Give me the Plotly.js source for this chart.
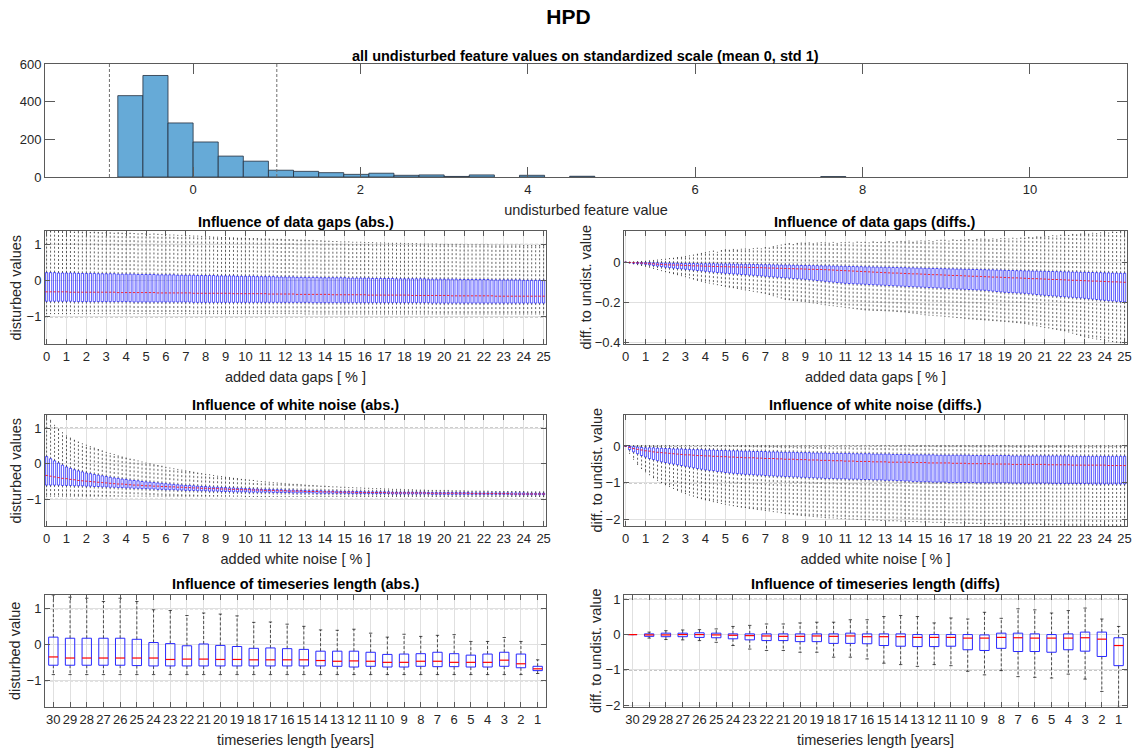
<!DOCTYPE html>
<html>
<head>
<meta charset="utf-8">
<script src="https://cdn.plot.ly/plotly-3.0.1.min.js"></script>
<style>html,body{margin:0;padding:0;background:#fff}#plot{width:1137px;height:754px}</style>
</head>
<body>
<div id="plot"></div>
<script>
// ---------------- DATA ----------------
// Histogram of undisturbed feature values
const histLeftEdges = [-0.9,-0.6,-0.3,0,0.3,0.6,0.9,1.2,1.5,1.8,2.1,2.4,2.7,3.0,3.3,3.9,4.5,7.5];
const histCounts    = [432,539,287,186,111,84,36,30,23,14,20,9,11,3,11,9,4,2];
const histBinWidth  = 0.3;

// added disturbance in percent (box positions, data gaps and white noise)
const addedPct = [0,0.2,0.4,0.6,0.8, 1,1.2,1.4,1.6,1.8, 2,2.2,2.4,2.6,2.8, 3,3.2,3.4,3.6,3.8, 4,4.2,4.4,4.6,4.8,
 5,5.2,5.4,5.6,5.8, 6,6.2,6.4,6.6,6.8, 7,7.2,7.4,7.6,7.8, 8,8.2,8.4,8.6,8.8, 9,9.2,9.4,9.6,9.8,
 10,10.2,10.4,10.6,10.8, 11,11.2,11.4,11.6,11.8, 12,12.2,12.4,12.6,12.8, 13,13.2,13.4,13.6,13.8, 14,14.2,14.4,14.6,14.8,
 15,15.2,15.4,15.6,15.8, 16,16.2,16.4,16.6,16.8, 17,17.2,17.4,17.6,17.8, 18,18.2,18.4,18.6,18.8, 19,19.2,19.4,19.6,19.8,
 20,20.2,20.4,20.6,20.8, 21,21.2,21.4,21.6,21.8, 22,22.2,22.4,22.6,22.8, 23,23.2,23.4,23.6,23.8, 24,24.2,24.4,24.6,24.8, 25];

// Data gaps (abs.)
const gapsAbsQ3 = [0.22,0.22,0.22,0.21,0.21, 0.21,0.21,0.21,0.20,0.20, 0.20,0.20,0.20,0.19,0.19, 0.19,0.19,0.19,0.18,0.18, 0.18,0.18,0.18,0.17,0.17,
 0.17,0.17,0.17,0.16,0.16, 0.16,0.16,0.16,0.15,0.15, 0.15,0.15,0.15,0.14,0.14, 0.14,0.14,0.14,0.13,0.13, 0.13,0.13,0.13,0.12,0.12,
 0.12,0.12,0.12,0.11,0.11, 0.11,0.11,0.11,0.10,0.10, 0.10,0.10,0.10,0.09,0.09, 0.09,0.09,0.09,0.09,0.08, 0.08,0.08,0.08,0.08,0.08,
 0.08,0.07,0.07,0.07,0.07, 0.07,0.07,0.06,0.06,0.06, 0.06,0.06,0.06,0.05,0.05, 0.05,0.05,0.05,0.05,0.05, 0.05,0.04,0.04,0.04,0.04,
 0.04,0.04,0.04,0.04,0.03, 0.03,0.03,0.03,0.03,0.03, 0.03,0.03,0.02,0.02,0.02, 0.02,0.02,0.02,0.02,0.02, 0.01,0.01,0.01,0.01,0.01, 0.01];
const gapsAbsMed = [-0.31,-0.31,-0.31,-0.31,-0.31, -0.31,-0.32,-0.32,-0.32,-0.32, -0.32,-0.32,-0.32,-0.32,-0.32, -0.32,-0.32,-0.32,-0.33,-0.33, -0.33,-0.33,-0.33,-0.33,-0.33,
 -0.33,-0.33,-0.33,-0.34,-0.34, -0.34,-0.34,-0.34,-0.34,-0.34, -0.34,-0.34,-0.35,-0.35,-0.35, -0.35,-0.35,-0.35,-0.35,-0.35, -0.35,-0.35,-0.36,-0.36,-0.36,
 -0.36,-0.36,-0.36,-0.36,-0.36, -0.36,-0.37,-0.37,-0.37,-0.37, -0.37,-0.37,-0.37,-0.38,-0.38, -0.38,-0.38,-0.38,-0.38,-0.38, -0.38,-0.38,-0.39,-0.39,-0.39,
 -0.39,-0.39,-0.39,-0.39,-0.39, -0.39,-0.40,-0.40,-0.40,-0.40, -0.40,-0.40,-0.40,-0.40,-0.40, -0.40,-0.40,-0.41,-0.41,-0.41, -0.41,-0.41,-0.41,-0.41,-0.41,
 -0.41,-0.41,-0.42,-0.42,-0.42, -0.42,-0.42,-0.42,-0.42,-0.42, -0.42,-0.42,-0.42,-0.43,-0.43, -0.43,-0.43,-0.43,-0.43,-0.43, -0.43,-0.43,-0.43,-0.43,-0.43, -0.43];
const gapsAbsQ1 = [-0.57,-0.57,-0.57,-0.57,-0.57, -0.57,-0.57,-0.58,-0.58,-0.58, -0.58,-0.58,-0.58,-0.58,-0.58, -0.58,-0.58,-0.58,-0.58,-0.58, -0.58,-0.58,-0.59,-0.59,-0.59,
 -0.59,-0.59,-0.59,-0.59,-0.59, -0.59,-0.59,-0.59,-0.59,-0.59, -0.59,-0.59,-0.60,-0.60,-0.60, -0.60,-0.60,-0.60,-0.60,-0.60, -0.60,-0.60,-0.60,-0.60,-0.60,
 -0.60,-0.60,-0.60,-0.60,-0.60, -0.60,-0.60,-0.60,-0.60,-0.60, -0.60,-0.60,-0.60,-0.60,-0.60, -0.60,-0.60,-0.61,-0.61,-0.61, -0.61,-0.61,-0.61,-0.61,-0.61,
 -0.61,-0.61,-0.61,-0.61,-0.61, -0.61,-0.61,-0.61,-0.61,-0.61, -0.61,-0.61,-0.61,-0.61,-0.61, -0.61,-0.61,-0.61,-0.61,-0.61, -0.61,-0.61,-0.62,-0.62,-0.62,
 -0.62,-0.62,-0.62,-0.62,-0.62, -0.62,-0.62,-0.62,-0.62,-0.62, -0.62,-0.62,-0.62,-0.62,-0.62, -0.62,-0.62,-0.62,-0.62,-0.62, -0.62,-0.62,-0.62,-0.62,-0.62, -0.62];
const gapsAbsUpper = [1.36,1.36,1.35,1.36,1.35, 1.35,1.35,1.34,1.35,1.34, 1.34,1.33,1.34,1.33,1.32, 1.33,1.32,1.31,1.32,1.31, 1.30,1.31,1.30,1.29,1.30,
 1.29,1.28,1.29,1.28,1.27, 1.27,1.26,1.26,1.25,1.25, 1.24,1.24,1.23,1.23,1.22, 1.21,1.21,1.20,1.20,1.19, 1.19,1.18,1.18,1.17,1.17,
 1.17,1.16,1.16,1.16,1.15, 1.15,1.15,1.14,1.14,1.14, 1.13,1.13,1.13,1.12,1.12, 1.12,1.11,1.11,1.10,1.10, 1.09,1.09,1.08,1.08,1.07,
 1.07,1.07,1.06,1.06,1.06, 1.05,1.05,1.05,1.04,1.04, 1.04,1.03,1.03,1.03,1.03, 1.02,1.02,1.02,1.02,1.01, 1.01,1.01,1.01,1.01,1.00,
 1.00,1.00,1.00,1.00,1.00, 0.99,0.99,0.99,0.99,0.99, 0.99,0.99,0.98,0.98,0.98, 0.98,0.98,0.98,0.98,0.98, 0.97,0.97,0.97,0.97,0.97, 0.97];
const gapsAbsLower = [-0.91,-0.91,-0.91,-0.91,-0.91, -0.91,-0.91,-0.91,-0.91,-0.91, -0.91,-0.91,-0.91,-0.91,-0.91, -0.91,-0.91,-0.91,-0.91,-0.91, -0.91,-0.91,-0.91,-0.91,-0.91,
 -0.91,-0.91,-0.91,-0.91,-0.91, -0.91,-0.91,-0.91,-0.91,-0.91, -0.91,-0.91,-0.91,-0.91,-0.91, -0.91,-0.91,-0.91,-0.91,-0.91, -0.91,-0.91,-0.91,-0.91,-0.91,
 -0.91,-0.91,-0.91,-0.91,-0.91, -0.91,-0.91,-0.91,-0.91,-0.91, -0.91,-0.91,-0.91,-0.91,-0.91, -0.92,-0.92,-0.92,-0.92,-0.92, -0.92,-0.92,-0.92,-0.92,-0.92,
 -0.92,-0.92,-0.92,-0.92,-0.92, -0.92,-0.92,-0.92,-0.92,-0.92, -0.92,-0.92,-0.92,-0.92,-0.92, -0.92,-0.92,-0.92,-0.92,-0.92, -0.92,-0.92,-0.92,-0.92,-0.92,
 -0.92,-0.92,-0.92,-0.92,-0.92, -0.92,-0.92,-0.92,-0.92,-0.92, -0.92,-0.92,-0.92,-0.92,-0.92, -0.92,-0.92,-0.92,-0.92,-0.92, -0.92,-0.92,-0.92,-0.92,-0.92, -0.92];

// Data gaps (diffs.)
const gapsDiffQ3 = [0,0,-0.001,-0.001,-0.002, -0.002,-0.002,-0.003,-0.003,-0.004, -0.004,-0.004,-0.005,-0.005,-0.006, -0.006,-0.006,-0.006,-0.007,-0.007, -0.007,-0.007,-0.007,-0.008,-0.008,
 -0.008,-0.008,-0.009,-0.009,-0.010, -0.010,-0.010,-0.011,-0.011,-0.012, -0.012,-0.012,-0.013,-0.013,-0.014, -0.014,-0.014,-0.015,-0.015,-0.016, -0.016,-0.016,-0.017,-0.017,-0.018,
 -0.018,-0.018,-0.019,-0.019,-0.020, -0.020,-0.021,-0.021,-0.022,-0.022, -0.023,-0.023,-0.024,-0.024,-0.025, -0.025,-0.025,-0.026,-0.026,-0.027, -0.027,-0.028,-0.028,-0.029,-0.029,
 -0.030,-0.030,-0.031,-0.031,-0.032, -0.032,-0.033,-0.033,-0.034,-0.034, -0.035,-0.035,-0.036,-0.036,-0.037, -0.037,-0.038,-0.038,-0.039,-0.039, -0.040,-0.041,-0.041,-0.042,-0.042,
 -0.043,-0.043,-0.044,-0.044,-0.045, -0.045,-0.046,-0.046,-0.047,-0.047, -0.048,-0.048,-0.049,-0.049,-0.050, -0.050,-0.051,-0.051,-0.052,-0.052, -0.053,-0.053,-0.054,-0.054,-0.055, -0.055];
const gapsDiffMed = [0,-0.001,-0.002,-0.003,-0.004, -0.005,-0.007,-0.008,-0.010,-0.011, -0.012,-0.013,-0.014,-0.014,-0.015, -0.016,-0.017,-0.018,-0.018,-0.019, -0.020,-0.020,-0.021,-0.021,-0.022,
 -0.022,-0.023,-0.023,-0.024,-0.024, -0.025,-0.026,-0.026,-0.027,-0.027, -0.028,-0.029,-0.029,-0.030,-0.030, -0.031,-0.032,-0.032,-0.033,-0.033, -0.034,-0.035,-0.035,-0.036,-0.036,
 -0.037,-0.038,-0.039,-0.040,-0.041, -0.042,-0.043,-0.044,-0.045,-0.046, -0.047,-0.048,-0.049,-0.050,-0.051, -0.052,-0.053,-0.054,-0.054,-0.055, -0.056,-0.057,-0.058,-0.058,-0.059,
 -0.060,-0.061,-0.062,-0.062,-0.063, -0.064,-0.065,-0.066,-0.066,-0.067, -0.068,-0.069,-0.070,-0.070,-0.071, -0.072,-0.073,-0.074,-0.074,-0.075, -0.076,-0.077,-0.078,-0.078,-0.079,
 -0.080,-0.081,-0.082,-0.082,-0.083, -0.084,-0.085,-0.086,-0.086,-0.087, -0.088,-0.089,-0.090,-0.090,-0.091, -0.092,-0.093,-0.094,-0.094,-0.095, -0.096,-0.097,-0.098,-0.098,-0.099, -0.100];
const gapsDiffQ1 = [0,-0.002,-0.004,-0.006,-0.008, -0.010,-0.013,-0.016,-0.019,-0.022, -0.025,-0.027,-0.029,-0.031,-0.033, -0.035,-0.037,-0.039,-0.041,-0.043, -0.045,-0.047,-0.049,-0.051,-0.053,
 -0.055,-0.056,-0.058,-0.059,-0.061, -0.062,-0.064,-0.065,-0.067,-0.068, -0.070,-0.072,-0.073,-0.075,-0.076, -0.078,-0.079,-0.081,-0.082,-0.084, -0.085,-0.087,-0.089,-0.091,-0.093,
 -0.095,-0.097,-0.099,-0.101,-0.103, -0.105,-0.106,-0.107,-0.108,-0.109, -0.110,-0.111,-0.112,-0.113,-0.114, -0.115,-0.116,-0.117,-0.118,-0.119, -0.120,-0.121,-0.122,-0.123,-0.124,
 -0.125,-0.126,-0.127,-0.128,-0.129, -0.130,-0.131,-0.132,-0.133,-0.134, -0.135,-0.136,-0.137,-0.138,-0.139, -0.140,-0.142,-0.144,-0.146,-0.148, -0.150,-0.151,-0.152,-0.153,-0.154,
 -0.155,-0.157,-0.159,-0.161,-0.163, -0.165,-0.166,-0.168,-0.169,-0.171, -0.172,-0.174,-0.175,-0.177,-0.178, -0.180,-0.182,-0.184,-0.186,-0.188, -0.190,-0.192,-0.193,-0.195,-0.196, -0.198];
const gapsDiffUpper = [0,0.001,0.002,0.003,0.004, 0.005,0.007,0.009,0.011,0.013, 0.015,0.018,0.020,0.023,0.025, 0.028,0.032,0.036,0.040,0.044, 0.048,0.052,0.056,0.050,0.058,
 0.062,0.060,0.064,0.061,0.065, 0.066,0.064,0.068,0.070,0.067, 0.073,0.071,0.078,0.082,0.086, 0.090,0.093,0.088,0.094,0.096, 0.095,0.097,0.092,0.096,0.098,
 0.097,0.095,0.099,0.094,0.098, 0.098,0.100,0.096,0.101,0.099, 0.100,0.097,0.102,0.099,0.101, 0.100,0.103,0.098,0.102,0.104, 0.102,0.106,0.100,0.105,0.107,
 0.105,0.108,0.103,0.109,0.110, 0.110,0.106,0.112,0.109,0.111, 0.110,0.113,0.108,0.114,0.116, 0.115,0.112,0.117,0.114,0.118, 0.118,0.116,0.120,0.117,0.121,
 0.120,0.124,0.122,0.127,0.125, 0.130,0.128,0.133,0.131,0.135, 0.136,0.134,0.139,0.137,0.141, 0.142,0.140,0.145,0.143,0.147, 0.148,0.146,0.151,0.149,0.153, 0.153];
const gapsDiffLower = [0,-0.004,-0.008,-0.012,-0.016, -0.020,-0.025,-0.031,-0.036,-0.042, -0.047,-0.052,-0.057,-0.062,-0.067, -0.072,-0.078,-0.084,-0.090,-0.095, -0.100,-0.104,-0.108,-0.112,-0.116,
 -0.120,-0.124,-0.127,-0.131,-0.134, -0.138,-0.141,-0.145,-0.148,-0.152, -0.155,-0.161,-0.167,-0.173,-0.179, -0.185,-0.187,-0.190,-0.192,-0.195, -0.197,-0.200,-0.203,-0.206,-0.209,
 -0.212,-0.215,-0.217,-0.220,-0.222, -0.225,-0.228,-0.230,-0.233,-0.235, -0.238,-0.239,-0.240,-0.241,-0.241, -0.242,-0.243,-0.244,-0.246,-0.247, -0.248,-0.251,-0.254,-0.256,-0.259,
 -0.262,-0.264,-0.265,-0.267,-0.268, -0.270,-0.272,-0.274,-0.276,-0.278, -0.280,-0.282,-0.283,-0.285,-0.286, -0.288,-0.289,-0.291,-0.292,-0.294, -0.295,-0.297,-0.299,-0.301,-0.303,
 -0.305,-0.309,-0.313,-0.317,-0.321, -0.325,-0.328,-0.332,-0.335,-0.339, -0.342,-0.348,-0.354,-0.360,-0.366, -0.372,-0.376,-0.379,-0.383,-0.386, -0.390,-0.393,-0.396,-0.399,-0.402, -0.405];

// White noise (abs.)
const noiseAbsQ3 = [0.20,0.14,0.08,0.02,-0.04, -0.09,-0.13,-0.17,-0.20,-0.23, -0.26,-0.28,-0.30,-0.32,-0.34, -0.36,-0.38,-0.40,-0.41,-0.43, -0.44,-0.46,-0.47,-0.48,-0.50,
 -0.51,-0.52,-0.53,-0.54,-0.55, -0.56,-0.57,-0.58,-0.59,-0.60, -0.61,-0.61,-0.62,-0.63,-0.64, -0.64,-0.65,-0.66,-0.66,-0.67, -0.67,-0.68,-0.68,-0.69,-0.69,
 -0.70,-0.70,-0.71,-0.71,-0.72, -0.72,-0.72,-0.73,-0.73,-0.73, -0.74,-0.74,-0.74,-0.75,-0.75, -0.75,-0.76,-0.76,-0.76,-0.76, -0.77,-0.77,-0.77,-0.77,-0.78,
 -0.78,-0.78,-0.78,-0.78,-0.78, -0.79,-0.79,-0.79,-0.79,-0.79, -0.79,-0.79,-0.80,-0.80,-0.80, -0.80,-0.80,-0.80,-0.80,-0.80, -0.80,-0.81,-0.81,-0.81,-0.81,
 -0.81,-0.81,-0.81,-0.81,-0.81, -0.81,-0.81,-0.82,-0.82,-0.82, -0.82,-0.82,-0.82,-0.82,-0.82, -0.82,-0.82,-0.82,-0.82,-0.82, -0.82,-0.83,-0.83,-0.83,-0.83, -0.83];
const noiseAbsMed = [-0.33,-0.35,-0.37,-0.39,-0.41, -0.42,-0.44,-0.45,-0.47,-0.48, -0.49,-0.50,-0.51,-0.52,-0.53, -0.54,-0.55,-0.56,-0.57,-0.57, -0.58,-0.59,-0.60,-0.60,-0.61,
 -0.62,-0.62,-0.63,-0.63,-0.64, -0.64,-0.65,-0.65,-0.66,-0.66, -0.67,-0.67,-0.68,-0.68,-0.69, -0.69,-0.70,-0.70,-0.70,-0.71, -0.71,-0.72,-0.72,-0.72,-0.73,
 -0.73,-0.73,-0.74,-0.74,-0.74, -0.75,-0.75,-0.75,-0.76,-0.76, -0.76,-0.77,-0.77,-0.77,-0.77, -0.78,-0.78,-0.78,-0.78,-0.79, -0.79,-0.79,-0.79,-0.80,-0.80,
 -0.80,-0.80,-0.80,-0.81,-0.81, -0.81,-0.81,-0.81,-0.81,-0.81, -0.81,-0.82,-0.82,-0.82,-0.82, -0.82,-0.82,-0.82,-0.82,-0.82, -0.82,-0.83,-0.83,-0.83,-0.83,
 -0.83,-0.83,-0.83,-0.83,-0.83, -0.83,-0.83,-0.84,-0.84,-0.84, -0.84,-0.84,-0.84,-0.84,-0.84, -0.84,-0.84,-0.85,-0.85,-0.85, -0.85,-0.85,-0.85,-0.85,-0.85, -0.85];
const noiseAbsQ1 = [-0.60,-0.60,-0.60,-0.60,-0.61, -0.61,-0.61,-0.62,-0.62,-0.62, -0.63,-0.63,-0.64,-0.64,-0.65, -0.65,-0.66,-0.66,-0.67,-0.67, -0.68,-0.68,-0.69,-0.69,-0.70,
 -0.70,-0.71,-0.71,-0.72,-0.72, -0.73,-0.73,-0.73,-0.74,-0.74, -0.75,-0.75,-0.75,-0.76,-0.76, -0.76,-0.77,-0.77,-0.77,-0.78, -0.78,-0.78,-0.79,-0.79,-0.79,
 -0.79,-0.80,-0.80,-0.80,-0.80, -0.80,-0.80,-0.81,-0.81,-0.81, -0.81,-0.81,-0.82,-0.82,-0.82, -0.82,-0.82,-0.82,-0.83,-0.83, -0.83,-0.83,-0.83,-0.83,-0.83,
 -0.83,-0.84,-0.84,-0.84,-0.84, -0.84,-0.84,-0.84,-0.84,-0.84, -0.84,-0.84,-0.85,-0.85,-0.85, -0.85,-0.85,-0.85,-0.85,-0.85, -0.85,-0.85,-0.86,-0.86,-0.86,
 -0.86,-0.86,-0.86,-0.86,-0.86, -0.86,-0.86,-0.86,-0.86,-0.86, -0.86,-0.86,-0.86,-0.86,-0.86, -0.86,-0.86,-0.87,-0.87,-0.87, -0.87,-0.87,-0.87,-0.87,-0.87, -0.87];
const noiseAbsUpper = [1.35,1.22,1.08,0.97,0.87, 0.78,0.72,0.66,0.61,0.56, 0.52,0.48,0.44,0.40,0.36, 0.32,0.29,0.26,0.22,0.19, 0.16,0.13,0.11,0.08,0.05,
 0.02,0.00,-0.03,-0.05,-0.07, -0.10,-0.12,-0.14,-0.16,-0.18, -0.20,-0.22,-0.24,-0.26,-0.28, -0.30,-0.31,-0.33,-0.35,-0.36, -0.38,-0.39,-0.41,-0.42,-0.44,
 -0.45,-0.46,-0.47,-0.49,-0.50, -0.51,-0.52,-0.53,-0.54,-0.55, -0.56,-0.57,-0.58,-0.58,-0.59, -0.60,-0.61,-0.61,-0.62,-0.63, -0.63,-0.64,-0.65,-0.65,-0.66,
 -0.66,-0.67,-0.67,-0.68,-0.68, -0.69,-0.69,-0.70,-0.70,-0.70, -0.71,-0.71,-0.72,-0.72,-0.72, -0.73,-0.73,-0.73,-0.74,-0.74, -0.74,-0.75,-0.75,-0.75,-0.75,
 -0.75,-0.75,-0.76,-0.76,-0.76, -0.76,-0.77,-0.77,-0.77,-0.77, -0.77,-0.77,-0.78,-0.78,-0.78, -0.78,-0.78,-0.78,-0.78,-0.78, -0.78,-0.79,-0.79,-0.79,-0.79, -0.79];
const noiseAbsLower = [-0.91,-0.91,-0.91,-0.91,-0.91, -0.91,-0.91,-0.91,-0.91,-0.91, -0.91,-0.91,-0.91,-0.91,-0.91, -0.91,-0.91,-0.91,-0.91,-0.91, -0.91,-0.91,-0.91,-0.91,-0.91,
 -0.91,-0.91,-0.91,-0.91,-0.91, -0.91,-0.91,-0.91,-0.91,-0.91, -0.91,-0.91,-0.91,-0.91,-0.91, -0.91,-0.91,-0.91,-0.91,-0.91, -0.91,-0.91,-0.91,-0.91,-0.91,
 -0.92,-0.92,-0.92,-0.92,-0.92, -0.92,-0.92,-0.92,-0.92,-0.92, -0.92,-0.92,-0.92,-0.92,-0.92, -0.92,-0.92,-0.92,-0.92,-0.92, -0.92,-0.92,-0.92,-0.92,-0.92,
 -0.92,-0.92,-0.92,-0.92,-0.92, -0.92,-0.92,-0.92,-0.92,-0.92, -0.92,-0.92,-0.92,-0.92,-0.92, -0.92,-0.92,-0.92,-0.92,-0.92, -0.92,-0.92,-0.92,-0.92,-0.92,
 -0.92,-0.92,-0.92,-0.92,-0.92, -0.92,-0.92,-0.92,-0.92,-0.92, -0.92,-0.92,-0.92,-0.92,-0.92, -0.92,-0.92,-0.92,-0.92,-0.92, -0.92,-0.92,-0.92,-0.92,-0.92, -0.92];

// White noise (diffs.)
const noiseDiffQ3 = [0,-0.01,-0.02,-0.03,-0.04, -0.05,-0.05,-0.05,-0.06,-0.06, -0.07,-0.07,-0.08,-0.08,-0.08, -0.09,-0.09,-0.10,-0.10,-0.10, -0.11,-0.11,-0.11,-0.12,-0.12,
 -0.12,-0.13,-0.13,-0.13,-0.14, -0.14,-0.14,-0.15,-0.15,-0.15, -0.15,-0.16,-0.16,-0.16,-0.17, -0.17,-0.17,-0.17,-0.18,-0.18, -0.18,-0.18,-0.19,-0.19,-0.19,
 -0.19,-0.20,-0.20,-0.20,-0.20, -0.20,-0.20,-0.21,-0.21,-0.21, -0.21,-0.21,-0.22,-0.22,-0.22, -0.22,-0.22,-0.23,-0.23,-0.23, -0.23,-0.23,-0.24,-0.24,-0.24,
 -0.24,-0.24,-0.24,-0.25,-0.25, -0.25,-0.25,-0.25,-0.25,-0.25, -0.25,-0.25,-0.26,-0.26,-0.26, -0.26,-0.26,-0.26,-0.26,-0.26, -0.26,-0.26,-0.27,-0.27,-0.27,
 -0.27,-0.27,-0.27,-0.27,-0.27, -0.27,-0.27,-0.27,-0.27,-0.27, -0.27,-0.27,-0.28,-0.28,-0.28, -0.28,-0.28,-0.28,-0.28,-0.28, -0.28,-0.28,-0.28,-0.28,-0.28, -0.28];
const noiseDiffMed = [0,-0.04,-0.07,-0.09,-0.11, -0.13,-0.14,-0.16,-0.17,-0.18, -0.19,-0.20,-0.21,-0.22,-0.23, -0.24,-0.24,-0.25,-0.26,-0.26, -0.27,-0.27,-0.28,-0.28,-0.29,
 -0.29,-0.30,-0.30,-0.31,-0.31, -0.32,-0.32,-0.32,-0.33,-0.33, -0.34,-0.34,-0.34,-0.35,-0.35, -0.36,-0.36,-0.36,-0.37,-0.37, -0.37,-0.38,-0.38,-0.38,-0.39,
 -0.39,-0.39,-0.40,-0.40,-0.40, -0.41,-0.41,-0.41,-0.42,-0.42, -0.42,-0.42,-0.43,-0.43,-0.43, -0.43,-0.44,-0.44,-0.44,-0.44, -0.44,-0.44,-0.45,-0.45,-0.45,
 -0.45,-0.46,-0.46,-0.46,-0.46, -0.46,-0.46,-0.47,-0.47,-0.47, -0.47,-0.48,-0.48,-0.48,-0.48, -0.48,-0.48,-0.49,-0.49,-0.49, -0.49,-0.49,-0.50,-0.50,-0.50,
 -0.50,-0.50,-0.50,-0.50,-0.50, -0.50,-0.51,-0.51,-0.51,-0.51, -0.51,-0.51,-0.52,-0.52,-0.52, -0.52,-0.52,-0.52,-0.52,-0.52, -0.52,-0.53,-0.53,-0.53,-0.53, -0.53];
const noiseDiffQ1 = [0,-0.10,-0.16,-0.21,-0.26, -0.30,-0.34,-0.37,-0.40,-0.43, -0.45,-0.47,-0.49,-0.51,-0.53, -0.55,-0.57,-0.59,-0.61,-0.63, -0.65,-0.66,-0.67,-0.69,-0.70,
 -0.72,-0.73,-0.74,-0.75,-0.76, -0.77,-0.77,-0.78,-0.79,-0.79, -0.80,-0.81,-0.81,-0.82,-0.82, -0.83,-0.83,-0.84,-0.84,-0.85, -0.85,-0.86,-0.86,-0.87,-0.87,
 -0.88,-0.88,-0.88,-0.89,-0.89, -0.89,-0.90,-0.90,-0.90,-0.91, -0.91,-0.91,-0.92,-0.92,-0.92, -0.93,-0.93,-0.93,-0.94,-0.94, -0.95,-0.95,-0.96,-0.96,-0.97,
 -0.97,-0.97,-0.98,-0.98,-0.98, -0.98,-0.99,-0.99,-0.99,-0.99, -0.99,-0.99,-0.99,-1.00,-1.00, -1.00,-1.00,-1.00,-1.00,-1.00, -1.00,-1.00,-1.01,-1.01,-1.01,
 -1.01,-1.01,-1.01,-1.01,-1.01, -1.01,-1.01,-1.02,-1.02,-1.02, -1.02,-1.02,-1.02,-1.02,-1.02, -1.02,-1.02,-1.03,-1.03,-1.03, -1.03,-1.03,-1.03,-1.03,-1.03, -1.03];
const noiseDiffUpper = [0,0.01,0.01,0.01,0.01, 0.01,0.01,0.01,0.01,0.01, 0.01,0.01,0.01,0.01,0.01, 0.01,0.01,0.01,0.01,0.01, 0.01,0.01,0.01,0.01,0.01,
 0.01,0.01,0.01,0.01,0.01, 0.01,0.01,0.01,0.01,0.01, 0.01,0.01,0.01,0.01,0.01, 0.01,0.01,0.01,0.01,0.01, 0.01,0.01,0.01,0.01,0.01,
 0.01,0.01,0.01,0.01,0.01, 0.01,0.01,0.01,0.01,0.01, 0.01,0.01,0.01,0.01,0.01, 0.01,0.01,0.01,0.01,0.01, 0.01,0.01,0.01,0.01,0.01,
 0.01,0.01,0.01,0.01,0.01, 0.01,0.01,0.01,0.01,0.01, 0.01,0.01,0.01,0.01,0.01, 0.01,0.01,0.01,0.01,0.01, 0.01,0.01,0.01,0.01,0.01,
 0.01,0.01,0.01,0.01,0.01, 0.01,0.01,0.01,0.01,0.01, 0.01,0.01,0.01,0.01,0.01, 0.01,0.01,0.01,0.01,0.01, 0.01,0.01,0.01,0.01,0.01, 0.01];
const noiseDiffLower = [0,-0.20,-0.36,-0.50,-0.61, -0.70,-0.78,-0.86,-0.93,-0.99, -1.05,-1.10,-1.15,-1.20,-1.25, -1.29,-1.33,-1.36,-1.40,-1.43, -1.46,-1.48,-1.51,-1.53,-1.56,
 -1.58,-1.60,-1.62,-1.64,-1.66, -1.67,-1.69,-1.70,-1.72,-1.73, -1.75,-1.76,-1.78,-1.79,-1.81, -1.83,-1.84,-1.85,-1.87,-1.88, -1.89,-1.90,-1.91,-1.92,-1.93,
 -1.94,-1.95,-1.95,-1.96,-1.97, -1.97,-1.98,-1.98,-1.99,-1.99, -2.00,-2.00,-2.01,-2.01,-2.02, -2.02,-2.03,-2.03,-2.03,-2.04, -2.04,-2.05,-2.05,-2.05,-2.06,
 -2.06,-2.06,-2.07,-2.07,-2.07, -2.08,-2.08,-2.08,-2.09,-2.09, -2.09,-2.10,-2.10,-2.10,-2.10, -2.10,-2.11,-2.11,-2.11,-2.11, -2.12,-2.12,-2.12,-2.12,-2.12,
 -2.12,-2.13,-2.13,-2.13,-2.13, -2.14,-2.14,-2.14,-2.14,-2.14, -2.14,-2.15,-2.15,-2.15,-2.15, -2.15,-2.15,-2.15,-2.15,-2.15, -2.16,-2.16,-2.16,-2.16,-2.16, -2.16];

// Timeseries length (years)
const tsYears = ["30","29","28","27","26","25","24","23","22","21","20","19","18","17","16","15","14","13","12","11","10","9","8","7","6","5","4","3","2","1"];
const tsAbsQ3    = [0.21,0.18,0.18,0.18,0.18,0.15,0.06,0.03,-0.03,0.02,-0.02,-0.05,-0.10,-0.09,-0.11,-0.13,-0.18,-0.18,-0.18,-0.21,-0.27,-0.26,-0.25,-0.21,-0.25,-0.29,-0.26,-0.21,-0.26,-0.60];
const tsAbsMed   = [-0.34,-0.37,-0.37,-0.37,-0.37,-0.37,-0.37,-0.41,-0.40,-0.40,-0.41,-0.41,-0.42,-0.42,-0.42,-0.42,-0.44,-0.46,-0.45,-0.46,-0.49,-0.49,-0.46,-0.46,-0.49,-0.49,-0.49,-0.43,-0.53,-0.67];
const tsAbsQ1    = [-0.57,-0.57,-0.57,-0.57,-0.57,-0.58,-0.59,-0.59,-0.59,-0.59,-0.59,-0.59,-0.59,-0.59,-0.59,-0.59,-0.59,-0.60,-0.62,-0.60,-0.62,-0.62,-0.60,-0.61,-0.61,-0.62,-0.62,-0.60,-0.64,-0.72];
const tsAbsUpper = [1.38,1.32,1.29,1.20,1.29,1.20,0.97,0.95,0.81,0.88,0.85,0.80,0.62,0.63,0.57,0.51,0.41,0.40,0.43,0.32,0.21,0.29,0.23,0.26,0.28,0.09,0.09,0.20,0.09,-0.42];
const tsAbsLower = [-0.83,-0.83,-0.83,-0.83,-0.83,-0.83,-0.83,-0.83,-0.83,-0.83,-0.83,-0.83,-0.83,-0.83,-0.83,-0.83,-0.83,-0.83,-0.83,-0.83,-0.83,-0.83,-0.83,-0.83,-0.83,-0.83,-0.83,-0.83,-0.83,-0.80];

const tsDiffQ3    = [0,0.02,0.04,0.04,0.05,0.04,0.02,0.02,0.02,0.02,0.02,0.02,0.02,0.04,0.02,0.02,0.02,0,0,0,0,-0.01,0.04,0.04,0.02,0,0.02,0.07,0.07,-0.09];
const tsDiffMed   = [0,-0.01,-0.01,0,0,-0.01,-0.02,-0.03,-0.04,-0.05,-0.05,-0.04,-0.05,-0.04,-0.06,-0.06,-0.06,-0.08,-0.08,-0.08,-0.10,-0.10,-0.08,-0.09,-0.10,-0.10,-0.10,-0.09,-0.13,-0.31];
const tsDiffQ1    = [0,-0.05,-0.06,-0.06,-0.08,-0.09,-0.12,-0.15,-0.17,-0.17,-0.20,-0.20,-0.25,-0.25,-0.26,-0.31,-0.33,-0.34,-0.34,-0.33,-0.43,-0.45,-0.39,-0.48,-0.48,-0.50,-0.43,-0.47,-0.62,-0.88];
const tsDiffUpper = [0,0.07,0.11,0.13,0.14,0.16,0.23,0.26,0.30,0.30,0.33,0.35,0.35,0.42,0.42,0.51,0.54,0.51,0.33,0.47,0.44,0.63,0.46,0.73,0.70,0.61,0.68,0.75,0.44,0.23];
const tsDiffLower = [0,-0.10,-0.14,-0.15,-0.17,-0.22,-0.31,-0.41,-0.45,-0.45,-0.50,-0.50,-0.64,-0.64,-0.69,-0.81,-0.85,-0.90,-0.85,-0.88,-1.04,-1.14,-1.02,-1.19,-1.21,-1.23,-1.12,-1.26,-1.61,-2.06];

// ---------------- DRAWING ----------------
const W = 1137, H = 754;
const px = v => v / W;             // horizontal pixel -> paper
const py = v => 1 - v / H;         // vertical pixel -> paper
const FONT = 'Liberation Sans, Arial, Helvetica, sans-serif';
const TXT = 'rgb(38,38,38)';
const AXC = 'rgb(90,90,90)';
const GRID = 'rgb(224,224,224)';

function boxTraces(xs, q1, med, q3, lo, hi, halfW, capW, xa, ya, dense) {
  const wx=[], wy=[], cx=[], cy=[], bx=[], by=[], mx=[], my=[];
  for (let i = 0; i < xs.length; i++) {
    const x = xs[i];
    wx.push(x, x, null, x, x, null);
    wy.push(q3[i], hi[i], null, q1[i], lo[i], null);
    cx.push(x - capW, x + capW, null, x - capW, x + capW, null);
    cy.push(hi[i], hi[i], null, lo[i], lo[i], null);
    bx.push(x - halfW, x + halfW, x + halfW, x - halfW, x - halfW, null);
    by.push(q1[i], q1[i], q3[i], q3[i], q1[i], null);
    mx.push(x - halfW, x + halfW, null);
    my.push(med[i], med[i], null);
  }
  const common = {type:'scatter', mode:'lines', xaxis:xa, yaxis:ya, hoverinfo:'skip', showlegend:false};
  return [
    Object.assign({}, common, {x:wx, y:wy, line:{color: dense ? 'rgba(0,0,0,0.82)' : 'rgba(0,0,0,0.85)', width: dense ? 0.75 : 0.8, dash: dense ? '2px,2px' : '3px,2px'}}),
    Object.assign({}, common, {x:cx, y:cy, line:{color:'rgba(0,0,0,0.85)', width:0.8}}),
    Object.assign({}, common, {x:bx, y:by, line:{color: dense ? 'rgba(0,0,255,0.8)' : 'rgb(40,40,255)', width: dense ? 0.8 : 1}}),
    Object.assign({}, common, {x:mx, y:my, line:{color:'rgb(255,0,0)', width: dense ? 0.8 : 1.2}})
  ];
}

const traces = [];
// histogram
traces.push({
  type:'bar', xaxis:'x', yaxis:'y',
  x: histLeftEdges.map(e => e + histBinWidth / 2),
  y: histCounts, width: histBinWidth,
  marker:{color:'rgb(102,170,215)', line:{color:'rgb(35,45,60)', width:0.8}},
  hoverinfo:'skip', showlegend:false
});

const denseHalf = 0.056, denseCap = 0.025;
traces.push(...boxTraces(addedPct, gapsAbsQ1, gapsAbsMed, gapsAbsQ3, gapsAbsLower, gapsAbsUpper, denseHalf, denseCap, 'x2', 'y2', true));
traces.push(...boxTraces(addedPct, gapsDiffQ1, gapsDiffMed, gapsDiffQ3, gapsDiffLower, gapsDiffUpper, denseHalf, denseCap, 'x3', 'y3', true));
traces.push(...boxTraces(addedPct, noiseAbsQ1, noiseAbsMed, noiseAbsQ3, noiseAbsLower, noiseAbsUpper, denseHalf, denseCap, 'x4', 'y4', true));
traces.push(...boxTraces(addedPct, noiseDiffQ1, noiseDiffMed, noiseDiffQ3, noiseDiffLower, noiseDiffUpper, denseHalf, denseCap, 'x5', 'y5', true));
const tsPos = tsYears.map((c, i) => i + 1);
traces.push(...boxTraces(tsPos, tsAbsQ1, tsAbsMed, tsAbsQ3, tsAbsLower, tsAbsUpper, 0.28, 0.1, 'x6', 'y6', false));
traces.push(...boxTraces(tsPos, tsDiffQ1, tsDiffMed, tsDiffQ3, tsDiffLower, tsDiffUpper, 0.28, 0.1, 'x7', 'y7', false));

const LEFT = [px(45), px(546)], RIGHT = [px(624), px(1127)], FULL = [px(45), px(1127)];
const ROW1 = [py(177), py(64)], ROW2 = [py(344), py(231)], ROW3 = [py(526), py(415)], ROW4 = [py(707), py(595)];

function xax(domain, anchor, range, title, extra) {
  return Object.assign({
    domain, anchor, range, showline:true, linecolor:AXC, linewidth:1, mirror:'ticks',
    ticks:'inside', ticklen:5, tickcolor:AXC, showgrid:true, gridcolor:GRID, gridwidth:1, zeroline:false,
    tickfont:{family:FONT, size:13, color:TXT},
    title:{text:title, font:{family:FONT, size:14.5, color:TXT}, standoff:9},
    fixedrange:true
  }, extra || {});
}
function yax(domain, anchor, range, extra) {
  return Object.assign({
    domain, anchor, range, showline:true, linecolor:AXC, linewidth:1, mirror:'ticks',
    ticks:'inside', ticklen:5, tickcolor:AXC, showgrid:true, gridcolor:GRID, gridwidth:1, zeroline:false,
    tickfont:{family:FONT, size:13, color:TXT},
    fixedrange:true
  }, extra || {});
}

const pctTicks = {tickmode:'linear', tick0:0, dtick:1};
const layout = {
  width:W, height:H, margin:{l:0, r:0, t:0, b:0},
  paper_bgcolor:'#fff', plot_bgcolor:'#fff',
  font:{family:FONT, color:TXT},
  title:{text:'<b>HPD</b>', x:0.5, xanchor:'center', y:py(17), yanchor:'middle', font:{family:FONT, size:21, color:'#000'}},
  showlegend:false,
  xaxis: xax(FULL, 'y', [-1.77, 11.16], 'undisturbed feature value', {showgrid:false, ticklen:10, tickmode:'array', tickvals:[0,2,4,6,8,10]}),
  yaxis: yax(ROW1, 'x', [0, 600], {showgrid:false, ticklen:10, tickmode:'array', tickvals:[0,200,400,600]}),
  xaxis2: xax(LEFT, 'y2', [-0.08, 25.12], 'added data gaps [ % ]', pctTicks),
  yaxis2: yax(ROW2, 'x2', [-1.75, 1.37], {tickvals:[-1,0,1], tickmode:'array'}),
  xaxis3: xax(RIGHT, 'y3', [-0.08, 25.12], 'added data gaps [ % ]', pctTicks),
  yaxis3: yax(ROW2, 'x3', [-0.408, 0.156], {tickvals:[-0.4,-0.2,0], tickmode:'array'}),
  xaxis4: xax(LEFT, 'y4', [-0.08, 25.12], 'added white noise [ % ]', pctTicks),
  yaxis4: yax(ROW3, 'x4', [-1.75, 1.37], {tickvals:[-1,0,1], tickmode:'array'}),
  xaxis5: xax(RIGHT, 'y5', [-0.08, 25.12], 'added white noise [ % ]', pctTicks),
  yaxis5: yax(ROW3, 'x5', [-2.17, 0.84], {tickvals:[-2,-1,0], tickmode:'array'}),
  xaxis6: xax(LEFT, 'y6', [0.5, 30.5], 'timeseries length [years]', {tickmode:'array', tickvals:tsPos, ticktext:tsYears}),
  yaxis6: yax(ROW4, 'x6', [-1.73, 1.38], {tickvals:[-1,0,1], tickmode:'array'}),
  xaxis7: xax(RIGHT, 'y7', [0.5, 30.5], 'timeseries length [years]', {tickmode:'array', tickvals:tsPos, ticktext:tsYears}),
  yaxis7: yax(ROW4, 'x7', [-2.05, 1.12], {tickvals:[-2,-1,0,1], tickmode:'array'}),
  shapes: [],
  annotations: []
};

const refLine = {color:'rgb(110,110,110)', width:1, dash:'3px,2px'};
[-1, 1].forEach(v => layout.shapes.push({type:'line', xref:'x', yref:'y domain', x0:v, x1:v, y0:0, y1:1, line:refLine, layer:'above'}));
function hline(ax, v) {
  layout.shapes.push({type:'line', xref:'x' + ax + ' domain', yref:'y' + ax, x0:0, x1:1, y0:v, y1:v, line:refLine, layer:'below'});
}
[2, 4, 6, 7].forEach(a => { hline(a, 1); hline(a, -1); });
hline(5, 0); hline(5, -1);

const titles = [
  ['all undisturbed feature values on standardized scale (mean 0, std 1)', FULL, 56],
  ['Influence of data gaps (abs.)', LEFT, 222],
  ['Influence of data gaps (diffs.)', RIGHT, 222],
  ['Influence of white noise (abs.)', LEFT, 405],
  ['Influence of white noise (diffs.)', RIGHT, 405],
  ['Influence of timeseries length (abs.)', LEFT, 584],
  ['Influence of timeseries length (diffs)', RIGHT, 584]
];
titles.forEach(t => layout.annotations.push({
  text:'<b>' + t[0] + '</b>', xref:'paper', yref:'paper', x:(t[1][0] + t[1][1]) / 2, y:py(t[2]),
  xanchor:'center', yanchor:'middle', showarrow:false, font:{family:FONT, size:14.5, color:'#000'}
}));

// y-axis titles
const yTitles = [
  ['disturbed values', 15, ROW2], ['diff. to undist. value', 585, ROW2],
  ['disturbed values', 15, ROW3], ['diff. to undist. value', 596, ROW3],
  ['disturbed value', 15, ROW4], ['diff. to undist. value', 596, ROW4]
];
yTitles.forEach(t => layout.annotations.push({
  text:t[0], xref:'paper', yref:'paper', x:px(t[1]), y:(t[2][0] + t[2][1]) / 2, textangle:-90,
  xanchor:'center', yanchor:'middle', showarrow:false, font:{family:FONT, size:14.5, color:TXT}
}));

Plotly.newPlot('plot', traces, layout, {displayModeBar:false, staticPlot:true});
</script>
</body>
</html>
